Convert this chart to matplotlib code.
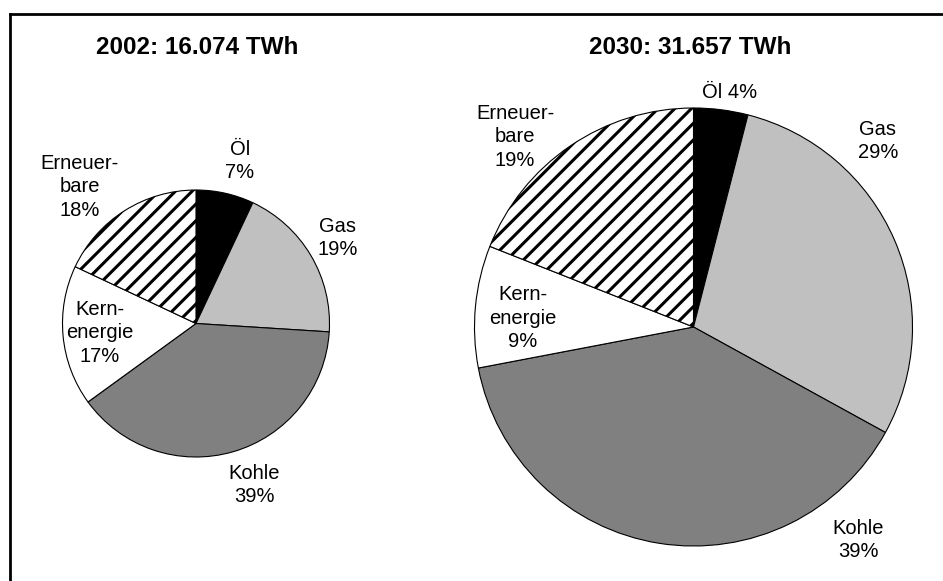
import matplotlib.pyplot as plt
from matplotlib.lines import Line2D

plt.rcParams["font.family"] = ["Liberation Sans", "DejaVu Sans"]
plt.rcParams["hatch.linewidth"] = 2.2

# Stromerzeugung nach Energieträgern
sources = ["Öl", "Gas", "Kohle", "Kernenergie", "Erneuerbare"]
label_names = ["Öl", "Gas", "Kohle", "Kern-\nenergie", "Erneuer-\nbare"]
share_2002 = [7, 19, 39, 17, 18]
share_2030 = [4, 29, 39, 9, 19]
titles = ["2002: 16.074 TWh", "2030: 31.657 TWh"]

colors = ["#000000", "#c0c0c0", "#808080", "#ffffff", "#ffffff"]
hatches = [None, None, None, None, "//"]

W, H = 943, 581
fig = plt.figure(figsize=(W / 100, H / 100), dpi=100)
ax = fig.add_axes([0, 0, 1, 1])

# Pixel-Layout (y von oben gemessen)
pies = [
    dict(values=share_2002, center=(196, 323.5), radius=133.5, title_xy=(197, 48),
         label_xy=[(240, 161), (338, 238), (254, 485), (100, 333), (80, 187)],
         one_line_first=False),
    dict(values=share_2030, center=(693.5, 327), radius=219, title_xy=(690, 48),
         label_xy=[(730, 92), (878, 141), (858, 540), (523, 318), (515, 137)],
         one_line_first=True),
]

for p, title in zip(pies, titles):
    cx, cy = p["center"]
    wedges, _ = ax.pie(p["values"], colors=colors, startangle=90, counterclock=False,
                       center=(cx, H - cy), radius=p["radius"], frame=True,
                       wedgeprops=dict(edgecolor="black", linewidth=0.8))
    for w, h in zip(wedges, hatches):
        if h:
            w.set_hatch(h)
    for i, (name, val, (lx, ly)) in enumerate(zip(label_names, p["values"], p["label_xy"])):
        if i == 0 and p["one_line_first"]:
            txt = f"{name} {val}%"
        else:
            txt = f"{name}\n{val}%"
        ax.text(lx, H - ly, txt, ha="center", va="center", fontsize=14.5,
                linespacing=1.32)
    tx, ty = p["title_xy"]
    ax.text(tx, H - ty, title, ha="center", va="center", fontsize=17.5, fontweight="bold")

ax.set_xlim(0, W)
ax.set_ylim(0, H)
ax.set_aspect("equal")
ax.axis("off")

# Rahmen oben und links
fig.add_artist(Line2D([10 / W, 1], [1 - 14 / H, 1 - 14 / H], color="black", linewidth=2))
fig.add_artist(Line2D([10 / W, 10 / W], [0, 1 - 14 / H], color="black", linewidth=2))

fig.savefig("out.png", dpi=100)
